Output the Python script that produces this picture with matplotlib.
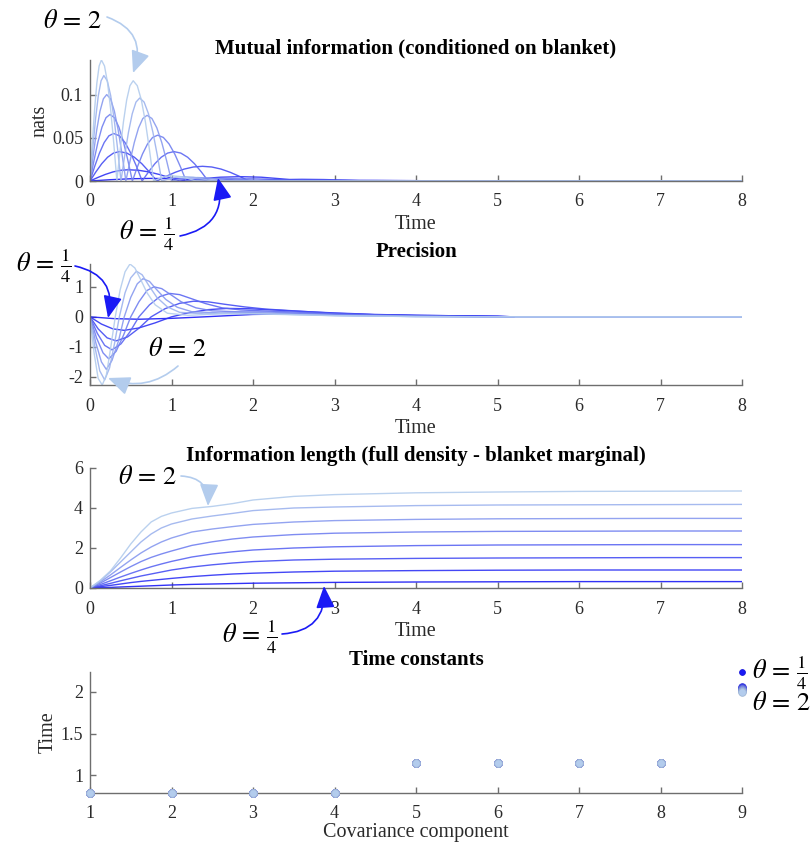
import numpy as np
import matplotlib
matplotlib.use("Agg")
import matplotlib.pyplot as plt

plt.rcParams['font.family'] = ['Liberation Serif', 'DejaVu Serif']
plt.rcParams['mathtext.fontset'] = 'stix'
plt.rcParams['axes.unicode_minus'] = False

# ---------------- data ----------------
thetas = [0.25, 0.5, 0.75, 1.0, 1.25, 1.5, 1.75, 2.0]

# Mutual information (nats) per theta
mi_t = [
    [0, .25, .5, .75, 1.03, 1.32, 1.6, 2.07, 2.53, 3.0, 3.5, 4.0, 4.5, 5.2],
    [0, .094, .188, .282, .376, .47, .596, .722, .848, .974, 1.1,
     1.35, 1.6, 1.85, 2.1, 2.35, 2.6, 5.2],
    [0, .072, .144, .216, .288, .36, .452, .544, .636, .728, .82,
     .932, 1.044, 1.156, 1.268, 1.38, 1.494, 1.608, 1.722, 1.836, 1.95,
     2.167, 2.383, 2.6, 2.867, 3.133, 3.4, 5.2],
    [0, .058, .116, .174, .232, .29, .36, .43, .5, .57, .64,
     .718, .796, .874, .952, 1.03, 1.114, 1.198, 1.282, 1.366, 1.45,
     1.617, 1.783, 1.95, 2.167, 2.383, 2.6, 5.2],
    [0, .049, .098, .147, .196, .245, .3, .355, .41, .465, .52,
     .582, .644, .706, .768, .83, .9, .97, 1.04, 1.11, 1.18,
     1.32, 1.46, 1.6, 1.767, 1.933, 2.1, 8],
    [0, .041, .082, .123, .164, .205, .252, .299, .346, .393, .44,
     .492, .544, .596, .648, .70, .76, .82, .88, .94, 1.0,
     1.107, 1.213, 1.32, 1.447, 1.573, 1.7, 8],
    [0, .034, .068, .102, .136, .17, .212, .254, .296, .338, .38,
     .426, .472, .518, .564, .61, .664, .718, .772, .826, .88,
     .97, 1.06, 1.15, 1.27, 1.38, 1.5, 8],
    [0, .028, .056, .084, .112, .14, .178, .216, .254, .292, .33,
     .37, .41, .45, .49, .53, .58, .63, .68, .73, .78,
     .853, .927, 1.0, 1.1, 1.2, 1.3, 8],
]
mi_v = [
    [0, .0015, .0026, .003, .0026, .0015, 0, .0004, .0007, .0008, .0007, .0004, 0, 0],
    [0, .004, .0076, .0105, .0124, .013, .0124, .0105, .0076, .004, 0,
     .0025, .0044, .005, .0044, .0025, 0, 0],
    [0, .0105, .02, .0275, .0323, .034, .0323, .0275, .02, .0105, 0,
     .0053, .01, .0138, .0162, .017, .0162, .0138, .01, .0053, 0,
     .001, .0017, .002, .0017, .001, 0, 0],
    [0, .017, .0323, .0445, .0523, .055, .0523, .0445, .0323, .017, 0,
     .0105, .02, .0275, .0323, .034, .0323, .0275, .02, .0105, 0,
     .00125, .0022, .0025, .0022, .00125, 0, 0],
    [0, .0238, .0453, .0623, .0732, .077, .0732, .0623, .0453, .0238, 0,
     .0164, .0312, .0429, .0504, .053, .0504, .0429, .0312, .0164, 0,
     .0015, .0026, .003, .0026, .0015, 0, 0],
    [0, .0309, .0588, .0809, .0951, .1, .0951, .0809, .0588, .0309, 0,
     .0235, .0447, .0615, .0723, .076, .0723, .0615, .0447, .0235, 0,
     .002, .0035, .004, .0035, .002, 0, 0],
    [0, .0377, .0717, .0987, .116, .122, .116, .0987, .0717, .0377, 0,
     .0297, .0564, .0777, .0913, .096, .0913, .0777, .0564, .0297, 0,
     .0025, .0044, .005, .0044, .0025, 0, 0],
    [0, .0433, .0823, .1133, .1331, .14, .1331, .1133, .0823, .0433, 0,
     .0358, .0682, .0938, .1103, .116, .1103, .0938, .0682, .0358, 0,
     .003, .0052, .006, .0052, .003, 0, 0],
]

# Precision per theta
pr_t = [
    [0, .3, .6, 1.0, 1.4, 2.0, 2.5, 3, 3.5, 4, 5, 5.2],
    [0, .14, .28, .42, .6, .8, 1.0, 1.22, 1.45, 1.68, 1.95, 2.25, 2.6, 3, 3.5, 4, 5, 5.2],
    [0, .1, .21, .32, .46, .6, .75, .92, 1.1, 1.27, 1.45, 1.65, 1.9, 2.15, 2.5, 3, 3.5, 4, 5, 5.2],
    [0, .09, .18, .27, .38, .49, .6, .73, .86, .98, 1.1, 1.25, 1.42, 1.62, 1.85, 2.1, 2.5, 3, 3.5, 4, 5, 5.2],
    [0, .08, .16, .23, .32, .41, .5, .6, .7, .785, .88, .99, 1.12, 1.3, 1.5, 1.8, 2.2, 2.6, 3.2, 4, 5, 8],
    [0, .07, .14, .2, .27, .35, .42, .5, .58, .65, .73, .82, .93, 1.07, 1.25, 1.6, 2.0, 2.4, 3, 4, 5, 8],
    [0, .06, .12, .18, .24, .3, .36, .43, .5, .57, .64, .72, .82, .95, 1.1, 1.4, 1.8, 2.2, 3, 4, 5, 8],
    [0, .05, .1, .15, .2, .25, .31, .37, .43, .49, .55, .62, .7, .8, .95, 1.2, 1.6, 2.0, 3, 4, 5, 8],
]
pr_v = [
    [0, -.06, -.08, -.05, 0, .08, .1, .09, .07, .05, .02, 0],
    [0, -.24, -.4, -.45, -.37, -.2, 0, .14, .24, .28, .27, .23, .18, .13, .08, .05, .02, 0],
    [0, -.4, -.7, -.8, -.67, -.38, 0, .27, .45, .52, .5, .42, .33, .26, .2, .12, .07, .04, .01, 0],
    [0, -.55, -.95, -1.1, -.9, -.5, 0, .4, .68, .78, .74, .6, .44, .3, .23, .2, .16, .1, .06, .03, 0, 0],
    [0, -.7, -1.2, -1.4, -1.15, -.62, 0, .5, .88, 1.0, .94, .74, .5, .3, .2, .17, .16, .12, .06, .02, 0, 0],
    [0, -.85, -1.5, -1.75, -1.45, -.8, 0, .65, 1.1, 1.27, 1.18, .9, .58, .32, .17, .13, .14, .11, .05, .01, 0, 0],
    [0, -1.0, -1.8, -2.1, -1.7, -.9, 0, .8, 1.3, 1.52, 1.4, 1.05, .65, .33, .15, .1, .12, .1, .04, .01, 0, 0],
    [0, -1.2, -2.05, -2.27, -1.95, -1.1, 0, .9, 1.5, 1.76, 1.63, 1.25, .8, .4, .12, .05, .1, .1, .04, .01, 0, 0],
]

# Information length
il_t = [0, .125, .25, .375, .5, .625, .75, .875, 1.0, 1.25, 1.5, 1.75, 2, 2.5, 3, 4, 5, 6, 7, 8]
il_v = [
    [0, .015, .03, .05, .07, .09, .11, .13, .15, .18, .2, .22, .24, .26, .28, .3, .31, .32, .32, .32],
    [0, .065, .13, .2, .27, .33, .38, .43, .48, .57, .64, .7, .74, .8, .84, .87, .89, .9, .9, .9],
    [0, .11, .23, .36, .48, .6, .7, .8, .9, 1.05, 1.16, 1.25, 1.32, 1.4, 1.44, 1.48, 1.5, 1.51, 1.52, 1.52],
    [0, .17, .36, .55, .73, .9, 1.06, 1.2, 1.33, 1.55, 1.7, 1.81, 1.9, 2.0, 2.06, 2.12, 2.15, 2.16, 2.17, 2.17],
    [0, .24, .52, .8, 1.07, 1.32, 1.53, 1.7, 1.85, 2.13, 2.31, 2.45, 2.55, 2.67, 2.74, 2.8, 2.83, 2.84, 2.85, 2.85],
    [0, .3, .65, 1.03, 1.4, 1.75, 2.05, 2.3, 2.5, 2.8, 2.95, 3.07, 3.18, 3.3, 3.37, 3.43, 3.46, 3.47, 3.48, 3.48],
    [0, .35, .8, 1.3, 1.8, 2.3, 2.7, 3.0, 3.2, 3.45, 3.6, 3.73, 3.87, 4.0, 4.05, 4.12, 4.15, 4.16, 4.17, 4.18],
    [0, .38, .85, 1.5, 2.2, 2.8, 3.3, 3.58, 3.75, 3.98, 4.08, 4.22, 4.4, 4.58, 4.67, 4.76, 4.8, 4.83, 4.84, 4.85],
]

# Time constants
components = [1, 2, 3, 4, 5, 6, 7, 8, 9]
tc_v = [
    [0.785, 0.785, 0.785, 0.785, 1.15, 1.15, 1.15, 1.15, 2.24],
    [0.785, 0.785, 0.785, 0.785, 1.15, 1.15, 1.15, 1.15, 2.06],
    [0.785, 0.785, 0.785, 0.785, 1.15, 1.15, 1.15, 1.15, 2.05],
    [0.785, 0.785, 0.785, 0.785, 1.15, 1.15, 1.15, 1.15, 2.04],
    [0.785, 0.785, 0.785, 0.785, 1.15, 1.15, 1.15, 1.15, 2.03],
    [0.785, 0.785, 0.785, 0.785, 1.15, 1.15, 1.15, 1.15, 2.02],
    [0.785, 0.785, 0.785, 0.785, 1.15, 1.15, 1.15, 1.15, 2.01],
    [0.785, 0.785, 0.785, 0.785, 1.15, 1.15, 1.15, 1.15, 2.00],
]

# ---------------- styling ----------------
dark = np.array([0.10, 0.10, 0.96])
light = np.array([0.70, 0.80, 0.93])
colors = [tuple(dark + (light - dark) * k / 7.0) for k in range(8)]

W, H = 810, 844
fig = plt.figure(figsize=(W / 100, H / 100), dpi=100)

def frac(x, y):
    return (x / W, 1 - y / H)

def make_ax(top, bottom):
    return fig.add_axes([90 / W, 1 - bottom / H, 652 / W, (bottom - top) / H])

AXC = '#6e6e6e'
def style(ax):
    for s in ['top', 'right']:
        ax.spines[s].set_visible(False)
    for s in ['left', 'bottom']:
        ax.spines[s].set_color(AXC)
        ax.spines[s].set_linewidth(1.0)
    ax.tick_params(direction='in', length=4, width=1, color=AXC,
                   labelsize=13, labelcolor='#2a2a2a')
    ax.tick_params(axis='x', pad=9)
    ax.tick_params(axis='y', pad=5)

TITLE = dict(fontsize=15, fontweight='bold', pad=5)
XL = dict(fontsize=14.5, color='#2a2a2a', labelpad=3)

# Panel 1
ax1 = make_ax(60, 181)
for k in range(8):
    ax1.plot(mi_t[k], mi_v[k], color=colors[k], lw=1.0, alpha=0.9)
ax1.set_xlim(0, 8); ax1.set_ylim(0, 0.14)
ax1.set_xticks(range(9)); ax1.set_yticks([0, 0.05, 0.1])
ax1.set_yticklabels(['0', '0.05', '0.1'])
style(ax1)
ax1.set_title('Mutual information (conditioned on blanket)', **TITLE)
ax1.set_xlabel('Time', **XL)
ax1.set_ylabel('nats', fontsize=14.5, color='#2a2a2a', labelpad=2)

# Panel 2
ax2 = make_ax(264, 385)
for k in range(8):
    ax2.plot(pr_t[k], pr_v[k], color=colors[k], lw=1.0, alpha=0.9)
ax2.set_xlim(0, 8); ax2.set_ylim(-2.27, 1.76)
ax2.set_xticks(range(9)); ax2.set_yticks([-2, -1, 0, 1])
style(ax2)
ax2.set_title('Precision', **TITLE)
ax2.set_xlabel('Time', **XL)

# Panel 3
ax3 = make_ax(468, 588)
for k in range(8):
    ax3.plot(il_t, il_v[k], color=colors[k], lw=1.0, alpha=0.9)
ax3.set_xlim(0, 8); ax3.set_ylim(0, 6)
ax3.set_xticks(range(9)); ax3.set_yticks([0, 2, 4, 6])
style(ax3)
ax3.set_title('Information length (full density - blanket marginal)', **TITLE)
ax3.set_xlabel('Time', **XL)

# Panel 4
ax4 = make_ax(672, 793)
for k in range(8):
    ms = 4.2 if k == 0 else 5.5
    ax4.plot(components, tc_v[k], linestyle='none', marker='o', ms=ms,
             mfc=colors[k], mec=tuple(np.clip(np.array(colors[k]) * 0.9, 0, 1)),
             mew=0.6, clip_on=False, zorder=3)
ax4.set_xlim(1, 9); ax4.set_ylim(0.785, 2.24)
ax4.set_xticks(range(1, 10)); ax4.set_yticks([1, 1.5, 2])
ax4.set_yticklabels(['1', '1.5', '2'])
style(ax4)
ax4.set_title('Time constants', **TITLE)
ax4.set_xlabel('Covariance component', fontsize=14.5, color='#2a2a2a', labelpad=0)
ax4.set_ylabel('Time', fontsize=14.5, color='#2a2a2a', labelpad=2)

# ---------------- annotations ----------------
LIGHT = colors[7]
DARK = colors[0]
TH2 = r'$\theta\,=\,2$'
TH14 = r'$\theta\,=\,\frac{1}{4}$'
TFS = 19

def arrow(start, end, rad, col):
    fig.add_artist(matplotlib.patches.FancyArrowPatch(
        posA=frac(*start), posB=frac(*end), transform=fig.transFigure,
        arrowstyle='-|>,head_length=0.75,head_width=0.32',
        connectionstyle='arc3,rad=%f' % rad, mutation_scale=18,
        color=col, lw=1.2, shrinkA=0, shrinkB=0))

fig.text(*frac(73, 22), TH2, fontsize=TFS, ha='center', va='center')
arrow((107, 17), (133, 73), -0.5, LIGHT)

fig.text(*frac(147, 234), TH14, fontsize=TFS, ha='center', va='center')
arrow((180, 236), (218, 178), 0.5, DARK)

fig.text(*frac(44, 266), TH14, fontsize=TFS, ha='center', va='center')
arrow((75, 266), (108, 318), -0.5, DARK)

fig.text(*frac(178, 350), TH2, fontsize=TFS, ha='center', va='center')
arrow((178, 366), (108, 378), -0.3, LIGHT)

fig.text(*frac(148, 478), TH2, fontsize=TFS, ha='center', va='center')
arrow((181, 476), (208, 506), -0.5, LIGHT)

fig.text(*frac(250, 637), TH14, fontsize=TFS, ha='center', va='center')
arrow((282, 634), (324, 586), 0.5, DARK)

fig.text(*frac(752, 673), TH14, fontsize=TFS, ha='left', va='center')
fig.text(*frac(752, 704), TH2, fontsize=TFS, ha='left', va='center')

fig.savefig('out.png', dpi=100)
